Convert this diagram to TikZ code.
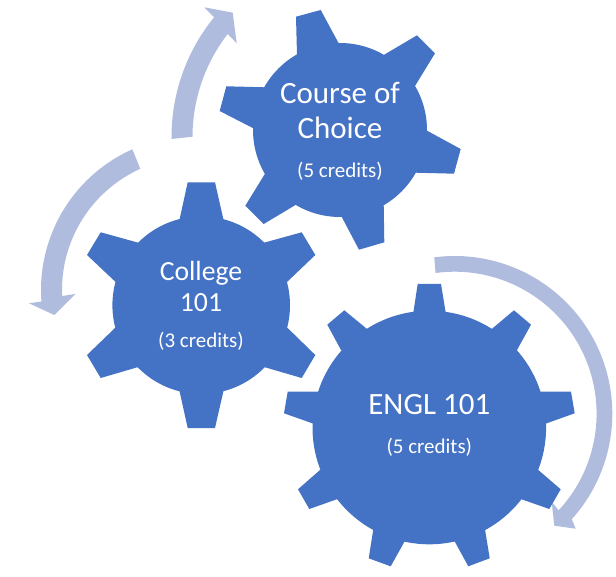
\documentclass[tikz,border=0pt]{standalone}
\usepackage{fontspec}
\setmainfont{Carlito}
\definecolor{gearblue}{HTML}{4472C4}
\definecolor{arrowblue}{HTML}{AFBCDE}
\tikzset{
  geartooth/.style={fill=gearblue,draw=none},
  flowarrow/.style={fill=arrowblue,draw=none},
  bigtext/.style={text=white,anchor=base,inner sep=0pt,font=\fontsize{31}{36}\selectfont},
  midtext/.style={text=white,anchor=base,inner sep=0pt,font=\fontsize{27.7}{32}\selectfont},
  smalltext/.style={text=white,anchor=base,inner sep=0pt,font=\fontsize{21}{25}\selectfont}
}
% centre x, centre y, outer R, inner R, outer start, outer end, inner end, inner start, head points
\newcommand{\curvedarrow}[9]{%
  \fill[flowarrow] plot[smooth,domain=#5:#6,samples=40] ({#1+#3*cos(\x)},{#2+#3*sin(\x)})
    -- #9
    -- plot[smooth,domain=#7:#8,samples=40] ({#1+#4*cos(\x)},{#2+#4*sin(\x)}) -- cycle;
}
\newcommand{\tooth}[5]{\fill[geartooth] #1 -- #2 -- #3 -- #4 -- #5 -- cycle;}
\begin{document}
\begin{tikzpicture}[x=1pt,y=-1pt]
\useasboundingbox (0,0) rectangle (616,577);
\fill[white] (0,0) rectangle (616,577);
% flow arrows
\curvedarrow{454.6}{413.7}{157.7}{142}{-97.4}{42}{42.9}{-97.7}{(575.7,528.7) -- (554.3,525.7) -- (551.7,501.7)}
\curvedarrow{195}{290}{154}{133}{246}{175.7}{177.4}{245.7}{(29,303.3) -- (54.3,315) -- (75.3,294)}
\curvedarrow{361}{137}{189.5}{168.5}{179.4}{219.2}{217.7}{180.1}{(204.3,7.3) -- (232.7,12.7) -- (236.7,43.3)}
% Course of Choice gear
\coordinate (cc) at (340,130);
\fill[geartooth] (cc) circle[radius=87pt];
\tooth{(297,55)}{(296,16.7)}{(320.7,10)}{(338.7,43.3)}{(cc)}
\tooth{(383.7,55)}{(417,35.3)}{(435,53.3)}{(415,86)}{(cc)}
\tooth{(427,130.7)}{(460.7,149)}{(454,173.7)}{(415,172.7)}{(cc)}
\tooth{(383.7,204)}{(384.3,242.3)}{(359,249.7)}{(340.7,215)}{(cc)}
\tooth{(296,204.7)}{(263.7,224)}{(245.3,205.7)}{(265,173.7)}{(cc)}
\tooth{(253.3,128.3)}{(219.7,111)}{(226.3,86.3)}{(265,87.3)}{(cc)}
% College 101 gear
\coordinate (cg) at (201.2,305.2);
\fill[geartooth] (cg) circle[radius=88.8pt];
\tooth{(179.3,220.7)}{(187.7,182.3)}{(215,182.3)}{(223.7,220.7)}{(cg)}
\tooth{(264,242.7)}{(301.7,232.3)}{(315.3,255)}{(287.3,281.7)}{(cg)}
\tooth{(287.3,327.7)}{(315.3,355)}{(301.7,378)}{(264,367)}{(cg)}
\tooth{(223.7,390)}{(215,428)}{(187.7,428)}{(179.3,390)}{(cg)}
\tooth{(138.3,367)}{(100.7,378)}{(87,355)}{(115.3,327.7)}{(cg)}
\tooth{(115.3,281.7)}{(87,255)}{(100.7,232.3)}{(138.3,242.7)}{(cg)}
% ENGL 101 gear
\coordinate (ce) at (429.3,427.5);
\fill[geartooth] (ce) circle[radius=116.8pt];
\tooth{(413.3,312.7)}{(417.7,284)}{(441,284)}{(445.7,312.7)}{(ce)}
\tooth{(491.7,329)}{(514,310.3)}{(531,324.7)}{(517,350)}{(ce)}
\tooth{(540.7,391.7)}{(571,391.7)}{(574.7,413.3)}{(546.7,423.3)}{(ce)}
\tooth{(538.3,470)}{(560.7,489.3)}{(549.3,509)}{(520.7,499)}{(ce)}
\tooth{(485,529.3)}{(489.7,558.3)}{(468.3,566.3)}{(454.3,540.7)}{(ce)}
\tooth{(405,540.7)}{(390.7,566.3)}{(368.7,558.3)}{(373.3,529.3)}{(ce)}
\tooth{(336.7,499.3)}{(309.3,509)}{(298,489.3)}{(320,470)}{(ce)}
\tooth{(312.3,423.3)}{(284,413.3)}{(287.7,391.7)}{(318.3,391.7)}{(ce)}
\tooth{(341,350)}{(327.3,324.7)}{(344.3,310.3)}{(367,329)}{(ce)}
% labels
\node[bigtext] (course1) at (340,103.2) {Course of};
\node[bigtext] (course2) at (340,138.5) {Choice};
\node[smalltext] (coursecr) at (340,177.7) {(5 credits)};
\node[midtext] (college1) at (201,280.3) {College};
\node[midtext] (college2) at (201,312) {101};
\node[smalltext] (collegecr) at (201,347.8) {(3 credits)};
\node[bigtext] (engl) at (429.3,414.3) {ENGL 101};
\node[smalltext] (englcr) at (429.3,453.7) {(5 credits)};
\end{tikzpicture}
\end{document}
